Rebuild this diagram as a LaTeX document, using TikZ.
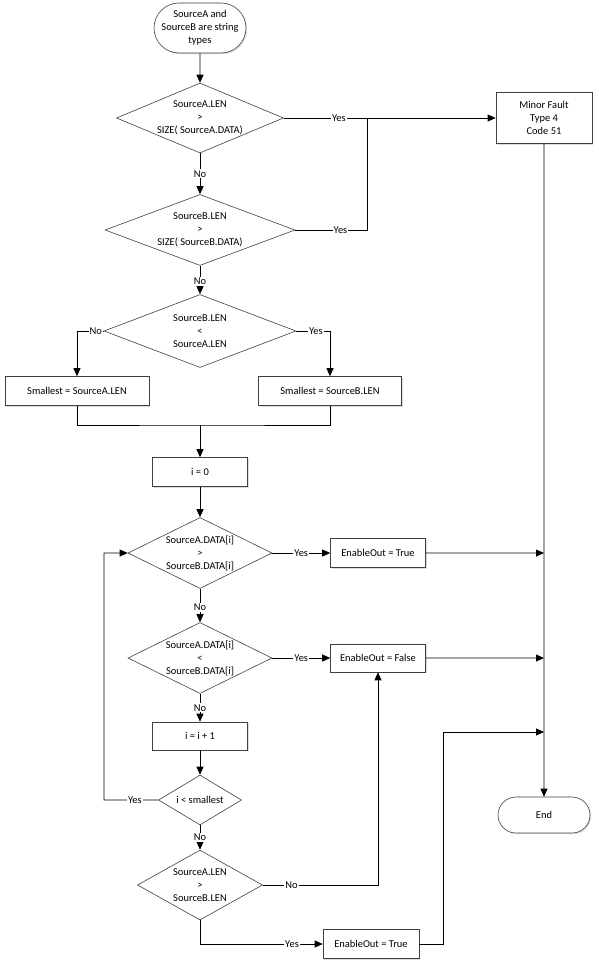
\documentclass[tikz,border=0pt]{standalone}
\usepackage{fontspec}
\setmainfont{Carlito}
\usetikzlibrary{shapes.geometric,shapes.misc,arrows.meta,shadows}

\tikzset{
  flow/.style={draw, line width=0.8bp, -{Triangle[length=8bp,width=7bp]}},
  line/.style={draw, line width=0.8bp, -},
  boxshadow/.style={drop shadow={shadow xshift=1.2bp, shadow yshift=-1.2bp, fill=black!30, opacity=.45}},
  box/.style={rectangle, draw=black!75, line width=0.6bp, fill=white, align=center, inner sep=2bp, boxshadow},
  term/.style={rounded rectangle, draw=black!75, line width=0.6bp, fill=white, align=center, inner sep=2bp, boxshadow},
  decision/.style={diamond, draw=black!75, line width=0.6bp, fill=white, align=center, aspect=2, inner sep=-6bp},
  yesno/.style={fill=white, inner sep=1bp}
}

\begin{document}
\begin{tikzpicture}
  [x=1bp, y=-1bp, font=\fontsize{10.5}{13}\selectfont, every edge/.style=flow]
  \useasboundingbox (0,0) rectangle (599,968);

  \node [name=start, term, minimum width=96bp, minimum height=50bp] at (200,28) {SourceA and\\SourceB are string\\types};
  \node [name=d1, decision, below of=start, node distance=90bp, minimum width=167bp, minimum height=70bp] {SourceA.LEN\\>\\SIZE( SourceA.DATA)};
  \node [name=d2, decision, below of=d1, node distance=112bp, minimum width=190bp, minimum height=71bp] {SourceB.LEN\\>\\SIZE( SourceB.DATA)};
  \node [name=d3, decision, below of=d2, node distance=101bp, minimum width=192bp, minimum height=73bp] {SourceB.LEN\\<\\SourceA.LEN};
  \node [name=smallA, box, minimum width=144bp, minimum height=29bp] at (77,391) {Smallest = SourceA.LEN};
  \node [name=smallB, box, minimum width=143bp, minimum height=29bp] at (330,391) {Smallest = SourceB.LEN};
  \node [name=i0, box, below of=d3, node distance=141bp, minimum width=95bp, minimum height=29bp] {i = 0};
  \node [name=d4, decision, below of=i0, node distance=81bp, minimum width=144bp, minimum height=71bp] {SourceA.DATA[i]\\>\\SourceB.DATA[i]};
  \node [name=d5, decision, below of=d4, node distance=105bp, minimum width=144bp, minimum height=71bp] {SourceA.DATA[i]\\<\\SourceB.DATA[i]};
  \node [name=inc, box, below of=d5, node distance=78bp, minimum width=95bp, minimum height=28bp] {i = i + 1};
  \node [name=d6, decision, below of=inc, node distance=64bp, minimum width=83bp, minimum height=50bp] {i < smallest};
  \node [name=d7, decision, below of=d6, node distance=85bp, minimum width=125bp, minimum height=70bp] {SourceA.LEN\\>\\SourceB.LEN};

  \node [name=fault, box, right of=d1, node distance=344bp, minimum width=96bp, minimum height=51bp] {Minor Fault\\Type 4\\Code 51};
  \node [name=end, term, below of=fault, node distance=697bp, minimum width=96bp, minimum height=36bp] {End};
  \node [name=true1, box, right of=d4, node distance=178bp, minimum width=95bp, minimum height=29bp] {EnableOut = True};
  \node [name=false, box, right of=d5, node distance=178bp, minimum width=95bp, minimum height=28bp] {EnableOut = False};
  \node [name=true2, box, minimum width=96bp, minimum height=29bp] at (371,944) {EnableOut = True};

  \coordinate (merge) at (367,118);
  \coordinate (join) at (200,425);
  \coordinate (loop) at (104,800);
  \coordinate (bend) at (443,944);
  \coordinate (j1) at (544,553);
  \coordinate (j2) at (544,658);
  \coordinate (j3) at (544,732);

  \path (start) edge (d1)
    (d1) edge node [yesno] {No} (d2)
    (d2) edge node [yesno, pos=.55] {No} (d3)
    (d1) edge node [yesno, pos=.26] {Yes} (fault)
    (fault) edge (end)
    (join) edge (i0)
    (i0) edge (d4)
    (d4) edge node [yesno] {Yes} (true1)
    (d4) edge node [yesno, pos=.55] {No} (d5)
    (d5) edge node [yesno] {Yes} (false)
    (d5) edge node [yesno] {No} (inc)
    (inc) edge (d6)
    (d6) edge node [yesno] {No} (d7)
    (true1) edge (j1)
    (false) edge (j2);

  \draw [line] (d2) -- node [yesno, pos=.63] {Yes} (d2 -| merge) -- (merge);
  \draw [flow] (d3) -| node [yesno, pos=.15] {No} (smallA);
  \draw [flow] (d3) -| node [yesno, pos=.29] {Yes} (smallB);
  \draw [line] (smallA) |- (join) -| (smallB);
  \draw [flow] (d6) -- node [yesno, pos=.43] {Yes} (loop) |- (d4);
  \draw [flow] (d7) -| node [yesno, pos=.125] {No} (false);
  \draw [flow] (d7) |- node [yesno, pos=.875] {Yes} (true2);
  \draw [flow] (true2) -- (bend) |- (j3);
\end{tikzpicture}
\end{document}
